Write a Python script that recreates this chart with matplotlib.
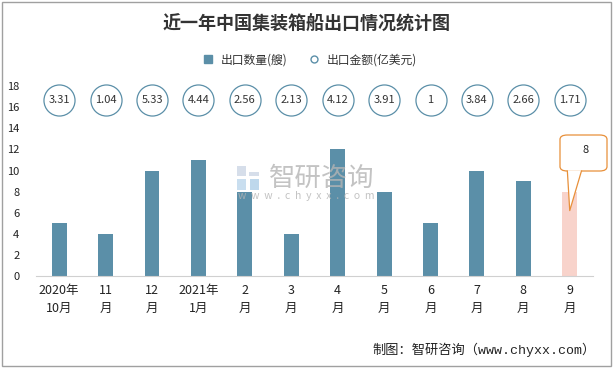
import numpy as np
import matplotlib.pyplot as plt
from matplotlib.patches import FancyBboxPatch, Rectangle, Polygon
from matplotlib.lines import Line2D

plt.rcParams['font.family'] = ['Noto Sans CJK SC', 'DejaVu Sans']

# ---------- data ----------
months = ['2020年\n10月', '11\n月', '12\n月', '2021年\n1月', '2\n月', '3\n月',
          '4\n月', '5\n月', '6\n月', '7\n月', '8\n月', '9\n月']
ships = [5, 4, 10, 11, 8, 4, 12, 8, 5, 10, 9, 8]
value = ['3.31', '1.04', '5.33', '4.44', '2.56', '2.13', '4.12', '3.91', '1', '3.84', '2.66', '1.71']

bar_c = '#5b8fa8'
hi_c = '#f8d3cb'

fig = plt.figure(figsize=(6.13, 3.68), dpi=100)
ax = fig.add_axes([0.0587, 0.25, 0.9086, 0.516])

x = np.arange(len(months))
colors = [bar_c] * (len(ships) - 1) + [hi_c]
ax.bar(x, ships, width=0.32, color=colors, zorder=2)

# circles with export value
ax.scatter(x, [16.7] * len(x), s=500, facecolor='white', edgecolor=bar_c,
           linewidth=0.9, zorder=3, clip_on=False)
for xi, v in zip(x, value):
    ax.text(xi, 16.7, v, ha='center', va='center', fontsize=8, color='#333333', zorder=4)

ax.set_xlim(-0.5, len(x) - 0.5)
ax.set_ylim(0, 18)
ax.set_yticks(range(0, 19, 2))
ax.set_xticks(x)
ax.set_xticklabels(months, fontsize=9, color='#222222', linespacing=1.5)
ax.tick_params(axis='y', labelsize=8, length=0, pad=12, colors='#222222')
ax.tick_params(axis='x', length=0, pad=6)
for s in ['top', 'right', 'left']:
    ax.spines[s].set_visible(False)
ax.spines['bottom'].set_color('#d0d0d0')

# callout on last bar
tip = ax.transData.transform((x[-1], 6.2))
tip_f = fig.transFigure.inverted().transform(tip)
bx0, by0, bw, bh = 560 / 613, 1 - 171 / 368, 47 / 613, 36 / 368
box = FancyBboxPatch((bx0, by0), bw, bh, boxstyle='round,pad=0,rounding_size=0.012',
                     transform=fig.transFigure, facecolor='white', edgecolor='#e8903a',
                     linewidth=0.9, zorder=5)
fig.patches.append(box)
tail = Polygon([(bx0 + 0.012, by0 + 0.002), (bx0 + 0.035, by0 + 0.002), tip_f],
               closed=True, transform=fig.transFigure, facecolor='white',
               edgecolor='none', zorder=6)
fig.patches.append(tail)
fig.lines.append(Line2D([bx0 + 0.012, tip_f[0], bx0 + 0.035], [by0, tip_f[1], by0],
                        transform=fig.transFigure, color='#e8903a', linewidth=0.9, zorder=7))
fig.text(bx0 + bw / 2 + 0.003, by0 + bh * 0.58, str(ships[-1]), ha='center', va='center',
         fontsize=8, color='#222222', zorder=8)

# title & legend
fig.text(0.5, 0.935, '近一年中国集装箱船出口情况统计图', ha='center', va='center',
         fontsize=13, fontweight='bold', color='#333333')
handles = [Line2D([], [], marker='s', linestyle='none', color=bar_c, markersize=6),
           Line2D([], [], marker='o', linestyle='none', markerfacecolor='white',
                  markeredgecolor=bar_c, markersize=5)]
fig.legend(handles, ['出口数量(艘)', '出口金额(亿美元)'], loc='center',
           bbox_to_anchor=(0.5, 0.838), ncol=2, frameon=False, fontsize=8.5,
           handletextpad=0.1, columnspacing=1.2, labelcolor='#333333')

# watermark (logo blocks + text)
wm = dict(transform=fig.transFigure, zorder=5, alpha=0.75, edgecolor='none')
fig.patches.append(Rectangle((237 / 613, 1 - 176 / 368), 9 / 613, 10 / 368, facecolor='#c9d3e3', **wm))
fig.patches.append(Rectangle((249 / 613, 1 - 176 / 368), 10 / 613, 4 / 368, facecolor='#c9d3e3', **wm))
fig.patches.append(Rectangle((237 / 613, 1 - 190 / 368), 9 / 613, 11 / 368, facecolor='#b7d3ea', **wm))
fig.patches.append(Rectangle((250 / 613, 1 - 190 / 368), 9 / 613, 11 / 368, facecolor='#a9cbe6', **wm))
fig.text(0.525, 0.515, '智研咨询', ha='center', va='center', fontsize=19,
         color='#b4b4b4', alpha=0.8, zorder=6)
fig.text(0.499, 0.467, 'w  w  w  .  c  h  y  x  x  .  c  o  m', ha='center', va='center',
         fontsize=7.5, color='#b4b4b4', alpha=0.8, zorder=6)

# footer
fig.text(0.972, 0.05, '制图：智研咨询（www.chyxx.com）', ha='right', va='center',
         fontsize=9.5, color='#222222', family=['Liberation Mono', 'Noto Sans CJK SC'])

# border
fig.patches.append(Rectangle((0.003, 0.005), 0.994, 0.99, transform=fig.transFigure,
                             fill=False, edgecolor='#a0a0a0', linewidth=1))

fig.savefig('out.png', dpi=100)
